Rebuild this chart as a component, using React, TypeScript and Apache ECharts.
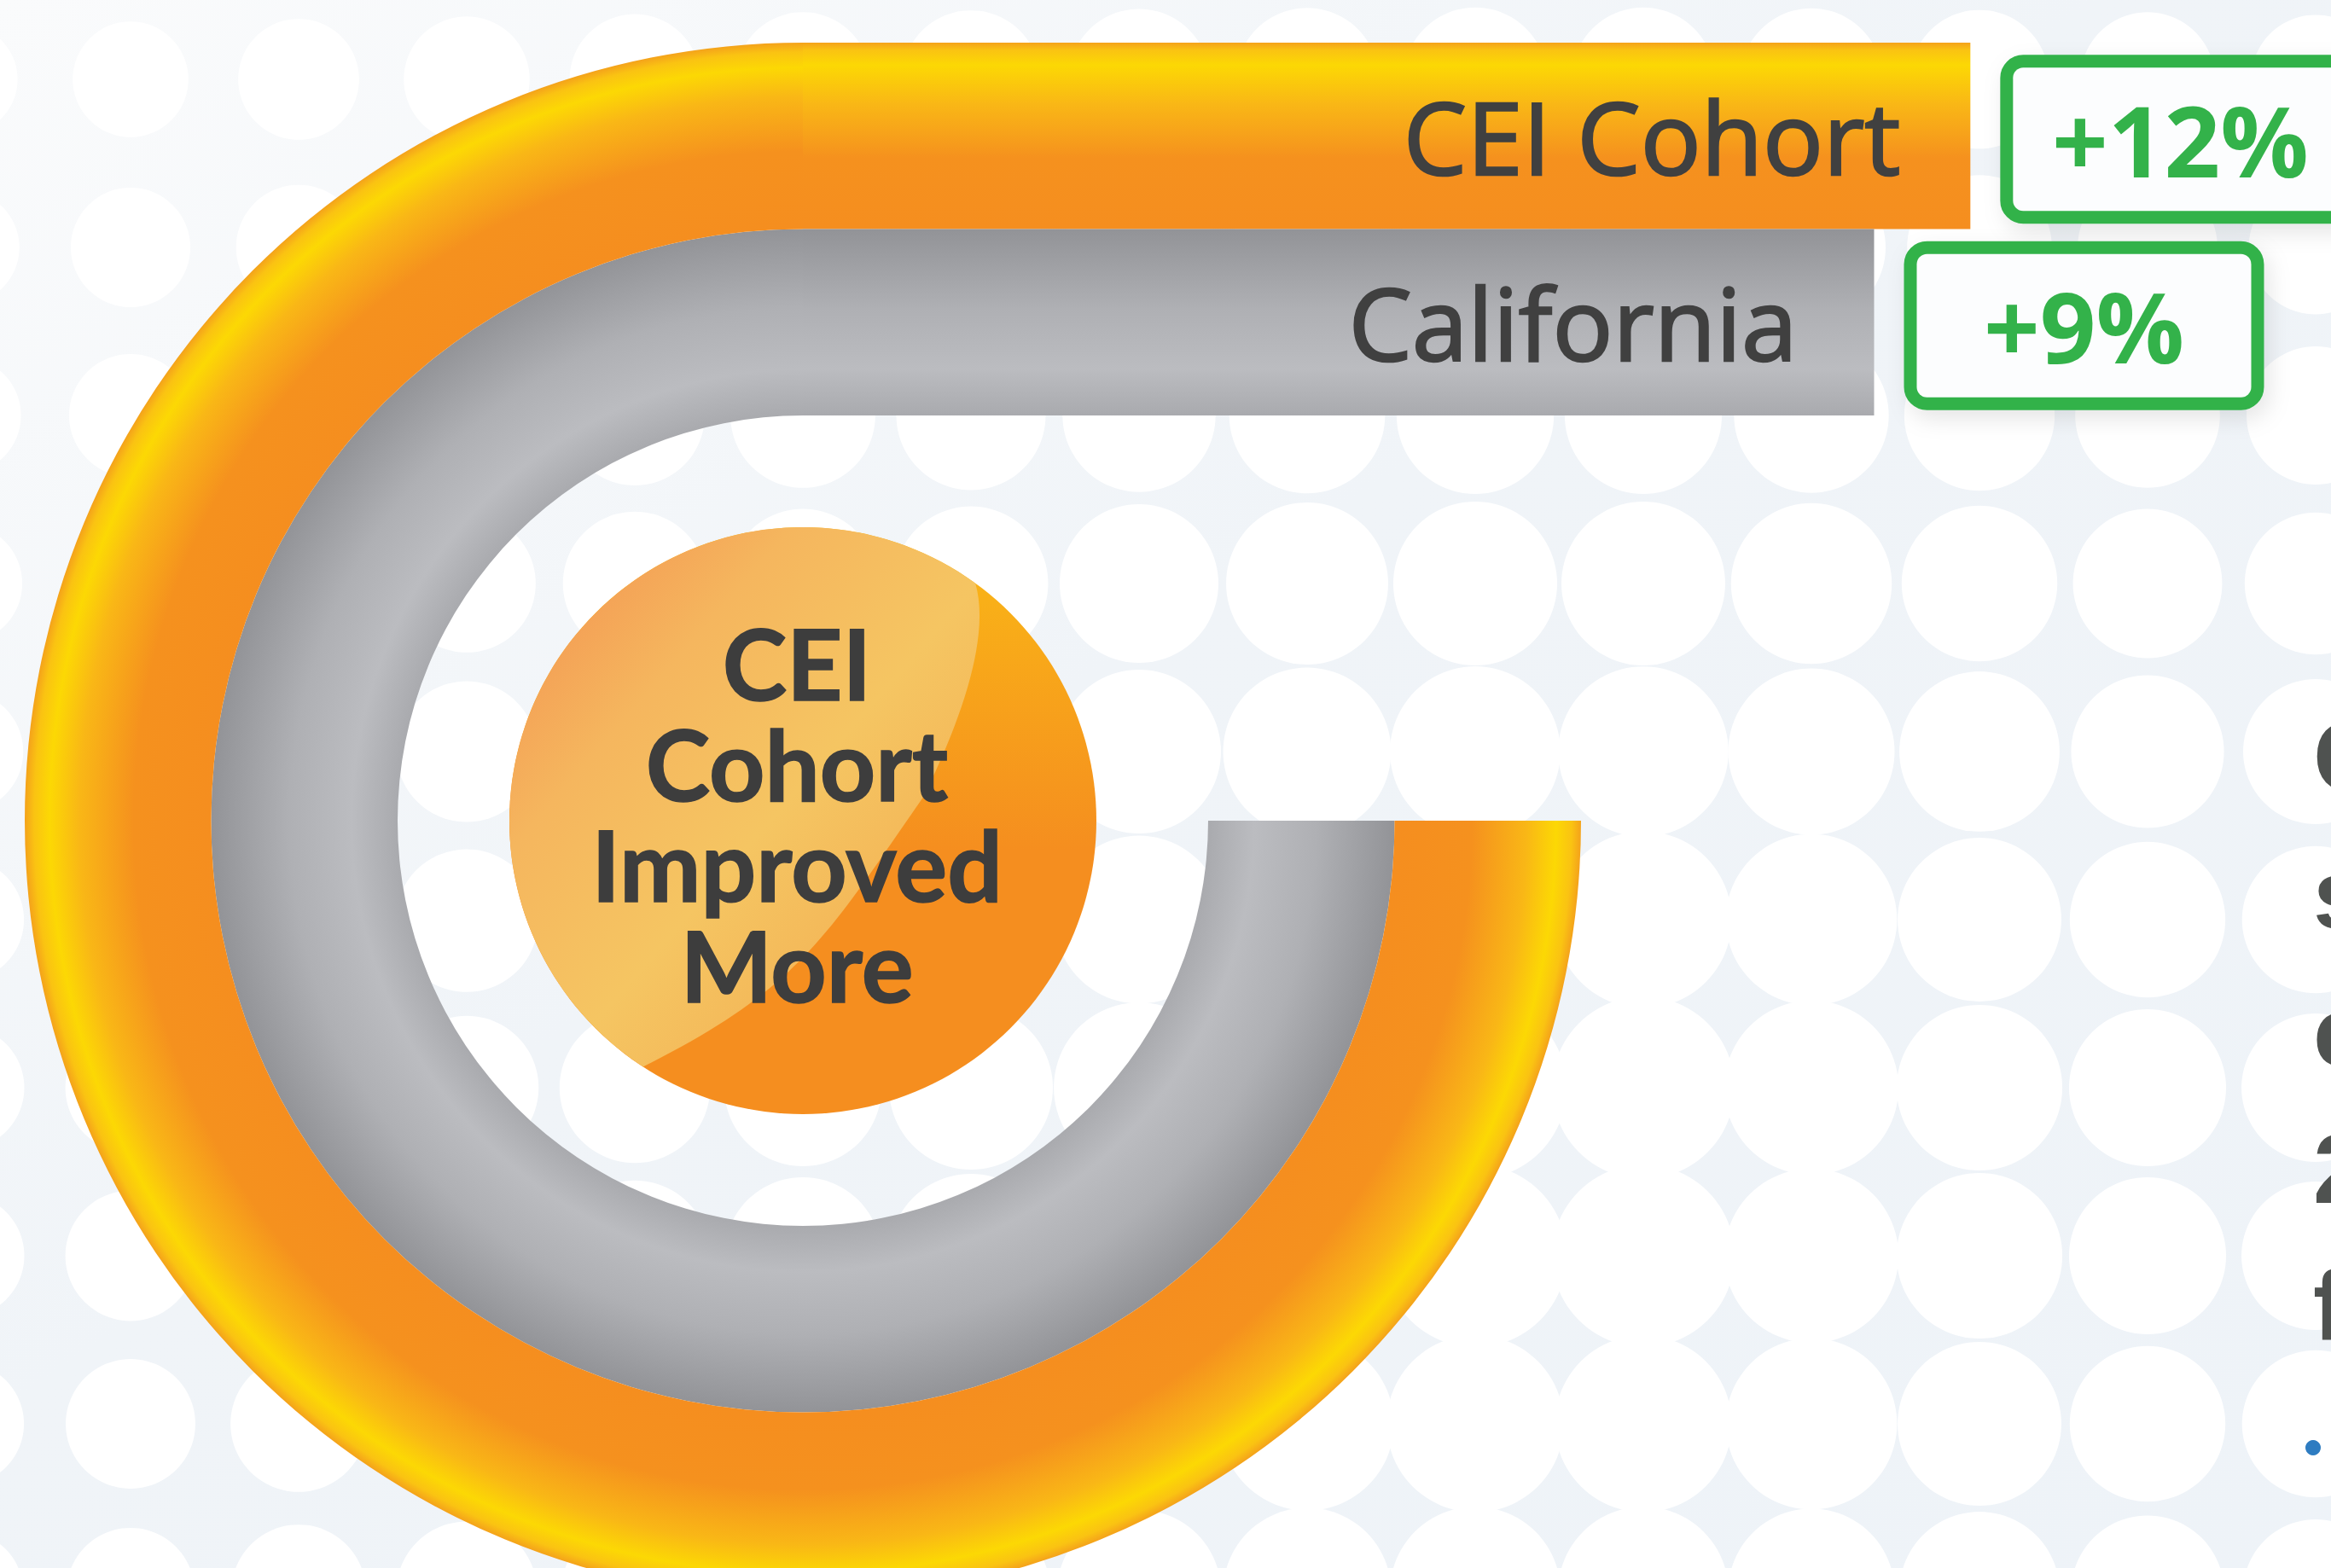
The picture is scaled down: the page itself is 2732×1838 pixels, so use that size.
import React, { useEffect, useRef } from 'react';
import * as echarts from 'echarts';

// ---------- data ----------
const categories = ['CEI Cohort', 'California'];
const changeLabels = ['+12%', '+9%'];
const arcSweep = [270, 270]; // degrees of each ring (value on the angle axis)
const straightLength = [76.4, 70.1]; // straight part, % of the axis from ring centre to right edge
const centerLines = ['CEI', 'Cohort', 'Improved', 'More'];
const sideLines = ['Cohort', 'schools', 'closed', '2x', 'faster'];

// ---------- layout / style ----------
const W = 2732;
const H = 1838;
const CX = 941;
const CY = 962;
const R_IN = 475;
const R_OUT = 912;
const BADGE_R = 344;

const LENS_D =
  'M -187.35 288.5 A 344 344 0 0 1 -344 0 A 344 344 0 0 1 202.2 -278.3 ' +
  'C 222 -210 177 -101 142 -29 C 28 135 -3 196 -187.35 288.5 Z';
echarts.graphic.registerShape('lens', echarts.graphic.extendPath(LENS_D, {}));

const orangeRing = new echarts.graphic.RadialGradient(
  CX,
  CY,
  R_OUT,
  [
    { offset: 0.76, color: '#F58E1F' },
    { offset: 0.86, color: '#F5911E' },
    { offset: 0.93, color: '#F9B716' },
    { offset: 0.968, color: '#FCD804' },
    { offset: 0.988, color: '#FAC312' },
    { offset: 1, color: '#F4A21B' },
  ],
  true
);
const grayRing = new echarts.graphic.RadialGradient(
  CX,
  CY,
  R_OUT,
  [
    { offset: 0.52, color: '#A9AAAE' },
    { offset: 0.58, color: '#BBBCC0' },
    { offset: 0.66, color: '#AFB0B4' },
    { offset: 0.762, color: '#929397' },
  ],
  true
);
const orangeBar = new echarts.graphic.LinearGradient(0, 0, 0, 1, [
  { offset: 0, color: '#F4A21B' },
  { offset: 0.04, color: '#FAC312' },
  { offset: 0.12, color: '#FCD804' },
  { offset: 0.33, color: '#F9B716' },
  { offset: 0.62, color: '#F5911E' },
  { offset: 1, color: '#F58E1F' },
]);
const grayBar = new echarts.graphic.LinearGradient(0, 0, 0, 1, [
  { offset: 0, color: '#929397' },
  { offset: 0.43, color: '#AFB0B4' },
  { offset: 0.75, color: '#BBBCC0' },
  { offset: 1, color: '#A9AAAE' },
]);
const ringColors = [orangeRing, grayRing];
const barColors = [orangeBar, grayBar];
const labelDistance = [82, 90];

function buildDots() {
  const out: any[] = [];
  for (let j = -1; j <= 9; j++) {
    for (let i = -1; i <= 13; i++) {
      const x = 153 + 197 * i;
      const y = 93 + 197 * j;
      const dx = x - 1830;
      const dy = y - 1375;
      const d = Math.sqrt((dx > 0 ? dx * 1.3 : dx) ** 2 + dy * dy);
      const r = Math.max(55, 110 - 0.02 * d);
      out.push({
        type: 'circle',
        silent: true,
        z: -5,
        shape: { cx: x, cy: y, r },
        style: { fill: '#FFFFFF' },
      });
    }
  }
  return out;
}

export default function App() {
  const ref = useRef<HTMLDivElement>(null);

  useEffect(() => {
    if (!ref.current) return;
    const chart = echarts.init(ref.current, null, { renderer: 'svg' });

    const option: any = {
      animation: false,
      backgroundColor: '#F1F5F9',
      polar: { center: [CX, CY], radius: [R_IN, R_OUT] },
      angleAxis: {
        type: 'value',
        min: 0,
        max: 360,
        startAngle: 90,
        clockwise: false,
        show: false,
      },
      radiusAxis: {
        type: 'category',
        data: [...categories].reverse(),
        show: false,
      },
      grid: { left: CX, top: 50, height: 437, right: 0 },
      xAxis: { type: 'value', min: 0, max: 100, show: false },
      yAxis: { type: 'category', data: categories, inverse: true, show: false },
      graphic: [
        {
          type: 'rect',
          silent: true,
          z: -10,
          shape: { x: 0, y: 0, width: W, height: H },
          style: {
            fill: new echarts.graphic.LinearGradient(0, 0, 1, 1, [
              { offset: 0, color: '#FAFBFC' },
              { offset: 0.45, color: '#F0F4F8' },
              { offset: 1, color: '#EEF3F8' },
            ]),
          },
        },
        ...buildDots(),
        {
          type: 'circle',
          z: 10,
          shape: { cx: CX, cy: CY, r: BADGE_R },
          style: {
            fill: new echarts.graphic.LinearGradient(0.5, 0, 0.5, 0.55, [
              { offset: 0, color: '#FAB916' },
              { offset: 1, color: '#F58E1F' },
            ]),
          },
        },
        {
          type: 'lens',
          z: 11,
          x: CX,
          y: CY,
          style: {
            fill: new echarts.graphic.LinearGradient(0, 0, 1, 1, [
              { offset: 0, color: '#F38C4E' },
              { offset: 0.3, color: '#F5B65E' },
              { offset: 0.55, color: '#F5C562' },
              { offset: 0.85, color: '#F3B053' },
              { offset: 1, color: '#F2A34A' },
            ]),
          },
        },
        {
          type: 'text',
          z: 12,
          x: 934,
          y: 953,
          style: {
            text: centerLines.join('\n'),
            fontFamily: 'Lato',
            fontWeight: 'bold',
            fontSize: 114,
            lineHeight: 118,
            fill: '#3D3D3D',
            stroke: '#3D3D3D',
            lineWidth: 1.5,
            align: 'center',
            verticalAlign: 'middle',
          },
        },
        {
          type: 'text',
          z: 12,
          x: 2711,
          y: 806,
          style: {
            text: sideLines.join('\n'),
            fontFamily: 'Liberation Sans',
            fontWeight: 'bold',
            fontSize: 115,
            lineHeight: 161,
            fill: '#4F5250',
            align: 'left',
            verticalAlign: 'top',
          },
        },
        {
          type: 'circle',
          z: 12,
          shape: { cx: 2711, cy: 1697, r: 9 },
          style: { fill: '#2E7CC1' },
        },
      ],
      series: [
        {
          type: 'bar',
          coordinateSystem: 'polar',
          barWidth: '100%',
          silent: true,
          data: [...categories]
            .map((c, i) => ({
              name: c,
              value: arcSweep[i],
              itemStyle: { color: ringColors[i] },
            }))
            .reverse(),
        },
        {
          type: 'bar',
          barWidth: '100%',
          silent: true,
          data: categories.map((c, i) => ({
            name: c,
            value: straightLength[i],
            itemStyle: { color: barColors[i] },
            label: { distance: labelDistance[i] },
          })),
          label: {
            show: true,
            position: 'insideRight',
            formatter: '{b}',
            fontFamily: 'Open Sans',
            fontWeight: 'normal',
            fontSize: 118,
            color: '#404040',
            textBorderColor: '#404040',
            textBorderWidth: 2.5,
          },
        },
        {
          type: 'bar',
          barWidth: '100%',
          barGap: '-100%',
          silent: true,
          itemStyle: { color: 'rgba(0,0,0,0)' },
          data: straightLength,
          label: {
            show: true,
            position: 'right',
            distance: 50,
            offset: [0, 4],
            formatter: (p: any) => `{v|${changeLabels[p.dataIndex]}}`,
            rich: {
              v: {
                width: 352,
                align: 'center',
                fontFamily: 'Open Sans',
                fontWeight: 'bold',
                fontSize: 115,
                lineHeight: 116,
                color: '#33B24A',
              },
            },
            backgroundColor: '#FCFDFE',
            borderColor: '#33B24A',
            borderWidth: 15,
            borderRadius: 12,
            padding: [26, 20],
            shadowColor: 'rgba(0,0,0,0.10)',
            shadowBlur: 26,
            shadowOffsetX: 6,
            shadowOffsetY: 10,
          },
        },
      ],
    };

    chart.setOption(option);
    return () => chart.dispose();
  }, []);

  return (
    <div
      ref={ref}
      style={{ position: 'absolute', left: 0, top: 0, width: W, height: H }}
    />
  );
}
